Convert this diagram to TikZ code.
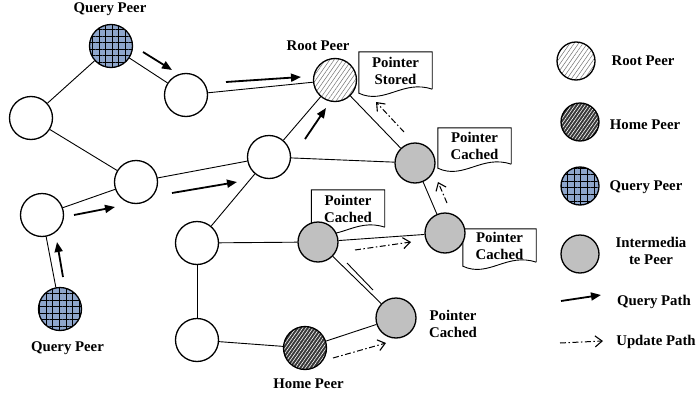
\documentclass[tikz,border=0pt]{standalone}
\usepackage{fontspec}
\setmainfont{Liberation Serif}
\usetikzlibrary{arrows.meta,patterns.meta,calc}
\definecolor{qblue}{RGB}{142,166,204}
\definecolor{midgray}{RGB}{192,192,192}
\definecolor{homedark}{RGB}{55,55,55}

\tikzset{
  peer/.style={circle, draw, line width=1.3pt, inner sep=0pt, minimum size=43pt},
  plainp/.style={peer, fill=white},
  midp/.style={peer, fill=midgray, minimum size=40pt},
  rootp/.style={peer, preaction={fill=white},
    pattern={Lines[angle=55,distance=3.6pt,line width=0.5pt]}, pattern color=black!55},
  homep/.style={peer, preaction={fill=homedark},
    pattern={Lines[angle=55,distance=2.8pt,line width=0.6pt]}, pattern color=white},
  queryp/.style={peer, preaction={fill=qblue},
    pattern={Hatch[distance=6.6pt,line width=0.8pt]}, pattern color=black},
  legendp/.style={minimum size=38pt},
  link/.style={line width=0.9pt},
  qarrow/.style={line width=1.8pt, -{Triangle[length=10pt,width=8pt]}},
  uarrow/.style={line width=1pt, dash pattern=on 6pt off 2.5pt on 1.5pt off 2.5pt,
    -{Straight Barb[length=7pt,width=11pt,line width=1.1pt]}},
  lbl/.style={font=\fontsize{14.8}{17}\selectfont\bfseries, align=center, inner sep=0pt},
  doctext/.style={lbl, minimum width=73pt},
  docline/.style={line width=0.9pt},
}

% note-sheet outline with a wavy lower edge around a text node
\newcommand\docframe[1]{%
  \draw[docline] (#1.south east) -- (#1.north east) -- (#1.north west)
    -- ($(#1.south west)+(0,4)$)
    .. controls ($(#1.south west)!0.35!(#1.south east)+(0,16)$)
    and ($(#1.south west)!0.6!(#1.south east)+(0,-10)$) .. (#1.south east);}

\begin{document}
\begin{tikzpicture}[x=1pt,y=-1pt]
\useasboundingbox (0,0) rectangle (697,399);

% pointer notes
\node[doctext, minimum height=37pt] (ps)  at (395.5,70.5) {Pointer\\Stored};
\docframe{ps}
\node[doctext, minimum height=36pt] (pc1) at (474.5,146) {Pointer\\Cached};
\docframe{pc1}
\node[doctext, minimum height=37pt] (pc2) at (348,208.5) {Pointer\\Cached};
\docframe{pc2}
\node[doctext, minimum height=33pt] (pc3) at (499.5,245.5) {Pointer\\Cached};
\docframe{pc3}

% peers
\node[queryp] (qp1) at (111,46) {};
\node[plainp] (a) at (186,95) {};
\node[plainp] (b) at (31,118) {};
\node[plainp] (c) at (136,182) {};
\node[plainp] (d) at (42,215) {};
\node[queryp] (qp2) at (60,309) {};
\node[plainp] (e) at (269,157) {};
\node[rootp] (root) at (335,80) {};
\node[midp] (i1) at (415,163) {};
\node[plainp] (f) at (197,243) {};
\node[plainp] (g) at (197,340) {};
\node[midp] (i2) at (318,242) {};
\node[midp] (i3) at (445,233) {};
\node[midp] (i4) at (396,318) {};
\node[homep] (home) at (305,348) {};

% peer labels
\node[lbl] (tq1) at (110,9) {Query Peer};
\node[lbl] (troot) at (318,46) {Root Peer};
\node[lbl] (tq2) at (67.5,348) {Query Peer};
\node[lbl] (thome) at (308.5,384) {Home Peer};
\node[lbl] (tpc4) at (453,324) {Pointer\\Cached};

% overlay links
\draw[link] (qp1) -- (a);
\draw[link] (qp1) -- (b);
\draw[link] (a) -- (root);
\draw[link] (b) -- (c);
\draw[link] (d) -- (c);
\draw[link] (c) -- (e);
\draw[link] (qp2) -- (d);
\draw[link] (e) -- (root);
\draw[link] (e) -- (i1);
\draw[link] (root) -- (i1);
\draw[link] (i1) -- (i3);
\draw[link] (e) -- (f);
\draw[link] (f) -- (i2);
\draw[link] (f) -- (g);
\draw[link] (g) -- (home);
\draw[link] (i2) -- (i3);
\draw[link] (i2) -- (i4);
\draw[link] (home) -- (i4);

% query path
\coordinate (q1s) at (143,52);  \coordinate (q1e) at (172,70);
\coordinate (q2s) at (226,82);  \coordinate (q2e) at (301,77);
\coordinate (q3s) at (305,139); \coordinate (q3e) at (326,108);
\coordinate (q4s) at (172,193); \coordinate (q4e) at (237,182);
\coordinate (q5s) at (74,215);  \coordinate (q5e) at (115,207);
\coordinate (q6s) at (63,277);  \coordinate (q6e) at (57,242);
\draw[qarrow] (q1s) -- (q1e);
\draw[qarrow] (q2s) -- (q2e);
\draw[qarrow] (q3s) -- (q3e);
\draw[qarrow] (q4s) -- (q4e);
\draw[qarrow] (q5s) -- (q5e);
\draw[qarrow] (q6s) -- (q6e);

% pointer push between the cached peers
\coordinate (p1s) at (347,263); \coordinate (p1e) at (373,290);
\draw[link] (p1s) -- (p1e);

% update path
\coordinate (u1s) at (333,358); \coordinate (u1e) at (386,343);
\coordinate (u2s) at (355,250); \coordinate (u2e) at (411,242);
\coordinate (u3s) at (447,203); \coordinate (u3e) at (438,182);
\coordinate (u4s) at (404,132); \coordinate (u4e) at (376,102);
\draw[uarrow] (u1s) -- (u1e);
\draw[uarrow] (u2s) -- (u2e);
\draw[uarrow] (u3s) -- (u3e);
\draw[uarrow] (u4s) -- (u4e);

% legend
\node[rootp, legendp] (lroot) at (576,61) {};
\node[lbl] (ltroot) at (643,61) {Root Peer};
\node[homep, legendp] (lhome) at (580,122) {};
\node[lbl] (lthome) at (645,125) {Home Peer};
\node[queryp, legendp] (lquery) at (580,186) {};
\node[lbl] (ltquery) at (646,187) {Query Peer};
\node[midp, legendp] (lmid) at (580,254) {};
\node[lbl] (ltmid) at (651,251) {Intermedia\\te Peer};
\coordinate (lqs) at (561,301); \coordinate (lqe) at (601,295);
\draw[qarrow] (lqs) -- (lqe);
\node[lbl] (ltq) at (654,302) {Query Path};
\coordinate (lus) at (560,343); \coordinate (lue) at (603,341);
\draw[uarrow] (lus) -- (lue);
\node[lbl] (ltu) at (656,342) {Update Path};
\end{tikzpicture}
\end{document}
